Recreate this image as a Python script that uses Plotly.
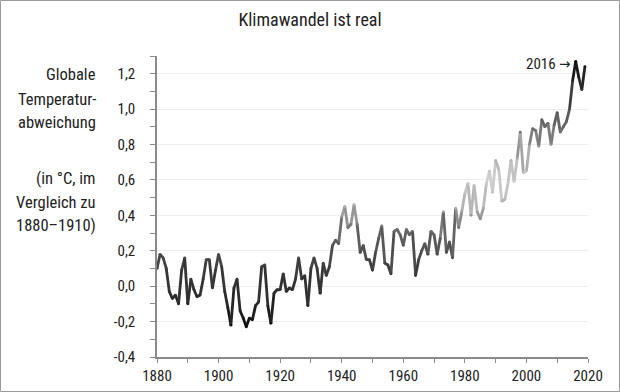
import plotly.graph_objects as go

# --- data ---
years = list(range(1880, 2020))
anomaly = [
    0.10, 0.18, 0.16, 0.10, -0.03, -0.07, -0.05, -0.10, 0.09, 0.16,
    -0.10, 0.04, -0.02, -0.06, -0.05, 0.04, 0.15, 0.15, -0.01, 0.09,
    0.18, 0.11, -0.03, -0.12, -0.22, -0.01, 0.04, -0.14, -0.18, -0.23,
    -0.18, -0.19, -0.11, -0.09, 0.11, 0.12, -0.11, -0.21, -0.04, -0.02,
    -0.02, 0.07, -0.03, -0.01, -0.02, 0.04, 0.16, 0.04, 0.06, -0.11,
    0.10, 0.16, 0.10, -0.04, 0.13, 0.06, 0.11, 0.23, 0.26, 0.24,
    0.39, 0.45, 0.33, 0.35, 0.46, 0.35, 0.19, 0.23, 0.15, 0.15,
    0.09, 0.19, 0.27, 0.34, 0.13, 0.12, 0.07, 0.31, 0.32, 0.29,
    0.23, 0.32, 0.29, 0.31, 0.06, 0.15, 0.20, 0.24, 0.18, 0.31,
    0.29, 0.18, 0.27, 0.42, 0.19, 0.25, 0.16, 0.44, 0.33, 0.42,
    0.52, 0.58, 0.40, 0.57, 0.42, 0.38, 0.44, 0.58, 0.65, 0.53,
    0.71, 0.66, 0.48, 0.49, 0.58, 0.71, 0.59, 0.72, 0.87, 0.64,
    0.65, 0.80, 0.89, 0.88, 0.79, 0.94, 0.90, 0.92, 0.80, 0.91,
    0.98, 0.87, 0.90, 0.93, 1.00, 1.16, 1.27, 1.18, 1.11, 1.24,
]
y_tickvals = [-0.4, -0.2, 0.0, 0.2, 0.4, 0.6, 0.8, 1.0, 1.2]
y_ticktext = ["-0,4", "-0,2", "0,0", "0,2", "0,4", "0,6", "0,8", "1,0", "1,2"]
x_tickvals = [1880, 1900, 1920, 1940, 1960, 1980, 2000, 2020]
title_text = "Klimawandel ist real"
ylabel_block1 = ["Globale", "Temperatur-", "abweichung"]
ylabel_block2 = ["(in °C, im", "Vergleich zu", "1880–1910)"]
peak_year = 2016
peak_label = "2016 →"

FONT = "Roboto Condensed, Liberation Sans Narrow, DejaVu Sans Condensed, Roboto, sans-serif"

# gray gradient along value (dark at extremes, light in the middle)
stops = [(-0.25, 10), (-0.1, 40), (0.1, 60), (0.3, 100), (0.45, 175),
         (0.6, 208), (0.75, 168), (0.9, 105), (1.05, 70), (1.27, 12)]


def gray(v):
    if v <= stops[0][0]:
        g = stops[0][1]
    elif v >= stops[-1][0]:
        g = stops[-1][1]
    else:
        for (a, ga), (b, gb) in zip(stops[:-1], stops[1:]):
            if a <= v <= b:
                g = ga + (gb - ga) * (v - a) / (b - a)
                break
    g = int(round(g))
    return f"rgb({g},{g},{g})"


fig = go.Figure()
LW = 2.8
for i in range(len(years) - 1):
    mid = (anomaly[i] + anomaly[i + 1]) / 2
    fig.add_trace(go.Scatter(
        x=years[i:i + 2], y=anomaly[i:i + 2], mode="lines",
        line=dict(color=gray(mid), width=LW),
        hoverinfo="skip", showlegend=False,
    ))
fig.add_trace(go.Scatter(
    x=years, y=anomaly, mode="markers",
    marker=dict(size=LW, color=[gray(v) for v in anomaly], line=dict(width=0)),
    hoverinfo="skip", showlegend=False,
))

AX = "#8a8a8a"
TXT = "#222222"
fig.update_layout(
    width=620, height=392,
    margin=dict(l=157, r=32, t=56, b=35, autoexpand=False),
    paper_bgcolor="white", plot_bgcolor="white",
    font=dict(family=FONT, size=15, color=TXT),
    title=dict(text=title_text, x=0.5, xanchor="center", y=1 - 20 / 392,
               yanchor="middle", font=dict(family=FONT, size=18, color=TXT)),
    xaxis=dict(range=[1880, 2020], tickmode="array", tickvals=x_tickvals,
               automargin=False,
               showgrid=False, zeroline=False, showline=True, linecolor=AX,
               linewidth=1.5, ticks="outside", ticklen=4, tickcolor=AX,
               tickwidth=1, ticklabelstandoff=0,
               tickfont=dict(size=15, color=TXT),
               minor=dict(dtick=10, tick0=1880, ticks="outside", ticklen=4,
                          tickcolor=AX, showgrid=False)),
    yaxis=dict(range=[-0.4, 1.3], tickmode="array", tickvals=y_tickvals,
               automargin=False,
               ticktext=y_ticktext, showgrid=True, gridcolor="#eeeeee",
               gridwidth=1, zeroline=False, showline=True, linecolor=AX,
               linewidth=1.5, ticks="outside", ticklen=5, tickcolor=AX,
               tickwidth=1, ticklabelstandoff=12,
               tickfont=dict(size=15, color=TXT),
               minor=dict(dtick=0.1, tick0=-0.4, ticks="outside", ticklen=5,
                          tickcolor=AX, showgrid=False)),
)


def py2paper(py):
    return (357 - py) / 301


x_lab = (98 - 157) / 431
for txt, py in zip(ylabel_block1 + ylabel_block2, [75, 99, 122, 178, 202, 225]):
    fig.add_annotation(text=txt, xref="paper", yref="paper", x=x_lab, y=py2paper(py),
                       xanchor="right", yanchor="middle", showarrow=False,
                       font=dict(family=FONT, size=16.5, color=TXT))

fig.add_annotation(text=peak_label, x=peak_year, y=anomaly[years.index(peak_year)],
                   xref="x", yref="y", xanchor="right", yanchor="middle",
                   xshift=-4, yshift=-3, showarrow=False,
                   font=dict(family=FONT, size=15, color=TXT))

# outer frame
fig.add_shape(type="rect", xref="paper", yref="paper",
              x0=(0.5 - 157) / 431, x1=(619.5 - 157) / 431,
              y0=py2paper(391.5), y1=py2paper(0.5),
              line=dict(color="#9a9a9a", width=1), layer="below")

fig.write_html("out.html", config={"displayModeBar": False},
               post_script="document.body.style.margin='0';")
